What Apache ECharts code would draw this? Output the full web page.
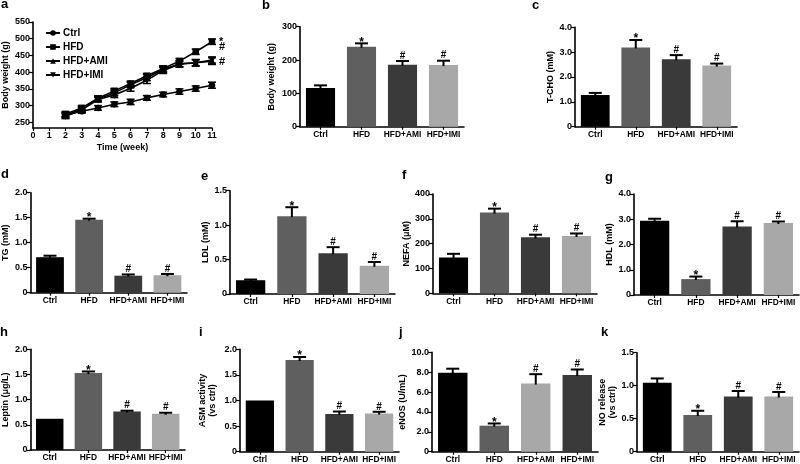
<!DOCTYPE html>
<html><head><meta charset="utf-8">
<script src="https://cdn.jsdelivr.net/npm/echarts@6/dist/echarts.min.js"></script>
<style>html,body{margin:0;padding:0;background:#fff}#c{width:800px;height:464px}</style>
</head><body><div id="c"></div>
<script>
// ---------- DATA ----------
const groups = ['Ctrl', 'HFD', 'HFD+AMI', 'HFD+IMI'];
// panel a: body weight over time
const weeks = [2, 3, 4, 5, 6, 7, 8, 9, 10, 11];
const weekTicks = [0, 1, 2, 3, 4, 5, 6, 7, 8, 9, 10, 11];
const ctrlWeight = [272, 283, 293, 304, 311, 323, 333, 342, 351, 361];
const ctrlWeightErr = [6, 6, 7, 7, 8, 7, 7, 8, 8, 9];
const hfdWeight = [275, 293, 322, 344, 366, 389, 411, 433, 461, 491];
const hfdWeightErr = [7, 7, 7, 7, 7, 7, 8, 8, 8, 8];
const amiWeight = [271, 290, 320, 338, 362, 384, 408, 425, 428, 433];
const amiWeightErr = [7, 7, 7, 8, 8, 9, 9, 9, 10, 10];
const imiWeight = [268, 287, 318, 332, 352, 376, 405, 424, 428, 436];
const imiWeightErr = [7, 7, 7, 8, 9, 10, 9, 9, 9, 9];
const endSig = ['', '*', '#', '#'];
// bar panels: values, SEM, significance marks
const bodyWeight = [116, 240, 186, 185];      const bodyWeightErr = [8, 10, 11, 13];
const tcho = [1.28, 3.19, 2.71, 2.46];         const tchoErr = [0.08, 0.3, 0.17, 0.08];
const tg = [0.71, 1.46, 0.34, 0.35];           const tgErr = [0.03, 0.02, 0.025, 0.025];
const ldl = [0.2, 1.13, 0.59, 0.41];           const ldlErr = [0.01, 0.13, 0.09, 0.055];
const nefa = [144, 325, 226, 231];             const nefaErr = [15, 16, 10, 10];
const hdl = [2.94, 0.63, 2.71, 2.85];          const hdlErr = [0.08, 0.1, 0.21, 0.06];
const leptin = [0.62, 1.53, 0.765, 0.72];      const leptinErr = [0, 0.03, 0.015, 0.02];
const asm = [1.0, 1.79, 0.735, 0.745];         const asmErr = [0, 0.06, 0.05, 0.035];
const enos = [7.95, 2.62, 6.85, 7.72];         const enosErr = [0.4, 0.22, 0.95, 0.55];
const noRelease = [1.045, 0.555, 0.835, 0.835];const noReleaseErr = [0.065, 0.065, 0.085, 0.07];
const sigUp = ['', '*', '#', '#'];

// ---------- STYLE / LAYOUT ----------
const FONT = 'Liberation Sans, Arial, sans-serif';
const colorsStd = ['#000000', '#5f5f5f', '#3a3a3a', '#a8a8a8'];
const colorsJ = ['#000000', '#5f5f5f', '#a8a8a8', '#3a3a3a'];

const panels = [
  {id:'b', v: bodyWeight, e: bodyWeightErr, s: sigUp, name:'Body weight (g)', max:300, iv:100, dec:0, box:[300, 26.7, 164, 100], gap:23, colors: colorsStd},
  {id:'c', v: tcho, e: tchoErr, s: sigUp, name:'T-CHO (mM)', max:4, iv:1, dec:1, box:[575, 27.3, 162, 99.4], gap:19, colors: colorsStd},
  {id:'d', v: tg, e: tgErr, s: sigUp, name:'TG (mM)', max:2, iv:0.5, dec:1, box:[25, 192.7, 162, 100], gap:13, colors: colorsStd},
  {id:'e', v: ldl, e: ldlErr, s: sigUp, name:'LDL (mM)', max:1.5, iv:0.5, dec:1, box:[230, 190.7, 165, 103.3], gap:12, colors: colorsStd},
  {id:'f', v: nefa, e: nefaErr, s: sigUp, name:'NEFA (\u03bcM)', max:400, iv:100, dec:0, box:[433, 194, 164, 99.3], gap:21, colors: colorsStd},
  {id:'g', v: hdl, e: hdlErr, s: sigUp, name:'HDL (mM)', max:4, iv:1, dec:1, box:[634, 194, 165, 101], gap:16, colors: colorsStd},
  {id:'h', v: leptin, e: leptinErr, s: sigUp, name:'Leptin (\u03bcg/L)', max:2, iv:0.5, dec:1, box:[25, 349.3, 160, 100.7], gap:15, colors: colorsStd},
  {id:'i', v: asm, e: asmErr, s: sigUp, name:'ASM activity\n(vs ctrl)', max:2, iv:0.5, dec:1, box:[240, 349.3, 159, 102.4], gap:22, colors: colorsStd},
  {id:'j', v: enos, e: enosErr, s: sigUp, name:'eNOS (U/mL)', max:10, iv:2, dec:1, box:[432, 352.3, 166, 99.4], gap:21, colors: colorsJ},
  {id:'k', v: noRelease, e: noReleaseErr, s: sigUp, name:'NO release\n(vs ctrl)', max:1.5, iv:0.5, dec:1, box:[637, 352.7, 162, 99], gap:18, colors: colorsStd}
];

const letters = [
  ['a', 1, -2], ['b', 262, -1], ['c', 532, -1], ['d', 1, 168], ['e', 201, 170], ['f', 402, 169],
  ['g', 605, 171], ['h', 0, 326], ['i', 199, 326], ['j', 399, 326], ['k', 601, 326]
];

const axisLineStyle = {color:'#000', width:1.6};
const tickLabel = {color:'#000', fontSize:9, fontWeight:'bold', fontFamily: FONT};
const catLabel = {color:'#000', fontSize:8.4, fontWeight:'bold', fontFamily: FONT};
const nameStyle = {color:'#000', fontSize:9, fontWeight:'bold', fontFamily: FONT, lineHeight: 10};

const grid = [], xAxis = [], yAxis = [], series = [];

// ---------- PANEL A ----------
grid.push({left:29, top:22, width:183, height:106, containLabel:false});
xAxis.push({type:'value', gridIndex:0, min:weekTicks[0], max:weekTicks[weekTicks.length-1], interval:1,
  name:'Time (week)', nameLocation:'middle', nameGap:15, nameTextStyle:nameStyle,
  axisLine:{show:true, lineStyle:axisLineStyle, onZero:false}, axisTick:{show:true, length:3, lineStyle:{color:'#000', width:1.2}},
  axisLabel:Object.assign({margin:3}, tickLabel), splitLine:{show:false}});
yAxis.push({type:'value', gridIndex:0, min:233, max:550, splitNumber:6,
  name:'Body weight (g)', nameLocation:'middle', nameGap:19, nameTextStyle:nameStyle,
  axisLine:{show:true, lineStyle:axisLineStyle, onZero:false}, axisTick:{show:true, length:4, lineStyle:{color:'#000', width:1.2}},
  axisLabel:Object.assign({margin:3, showMinLabel:false}, tickLabel), splitLine:{show:false}});

const lineDefs = [
  {name:'Ctrl', d:ctrlWeight, e:ctrlWeightErr, sym:'circle', size:6.5},
  {name:'HFD', d:hfdWeight, e:hfdWeightErr, sym:'rect', size:6.5},
  {name:'HFD+AMI', d:amiWeight, e:amiWeightErr, sym:'triangle', size:7.5},
  {name:'HFD+IMI', d:imiWeight, e:imiWeightErr, sym:'path://M0,0 L10,0 L5,9 Z', size:7.5}
];
const endSigDy = [0, 0, -14, 2];
lineDefs.forEach((ld, si) => {
  series.push({type:'line', name:ld.name, xAxisIndex:0, yAxisIndex:0,
    data: weeks.map((w, i) => [w, ld.d[i]]), symbol:ld.sym, symbolSize:ld.size, showSymbol:true,
    lineStyle:{color:'#000', width:1.6}, itemStyle:{color:'#000'}, z:3, animation:false});
  series.push({type:'custom', xAxisIndex:0, yAxisIndex:0, z:2, animation:false, silent:true,
    data: weeks.map((w, i) => [w, ld.d[i], ld.e[i]]),
    renderItem: (params, api) => {
      const x = api.value(0), v = api.value(1), e = api.value(2);
      const lo = api.coord([x, v - e]), hi = api.coord([x, v + e]);
      const st = {stroke:'#000', lineWidth:1.5};
      const ch = [
        {type:'line', shape:{x1:lo[0], y1:lo[1], x2:hi[0], y2:hi[1]}, style:st},
        {type:'line', shape:{x1:lo[0]-4, y1:lo[1], x2:lo[0]+4, y2:lo[1]}, style:st},
        {type:'line', shape:{x1:hi[0]-4, y1:hi[1], x2:hi[0]+4, y2:hi[1]}, style:st}
      ];
      if (params.dataIndex === weeks.length - 1 && endSig[si]) {
        const p = api.coord([x, v]);
        ch.push({type:'text', style:{text:endSig[si], x:p[0]+7, y:p[1]+endSigDy[si], fill:'#000',
          font:'bold 11px ' + FONT, textAlign:'left', textVerticalAlign:'middle'}});
      }
      return {type:'group', children:ch};
    }});
});

// ---------- BAR PANELS ----------
panels.forEach((p, k) => {
  const gi = k + 1;
  grid.push({left:p.box[0], top:p.box[1], width:p.box[2], height:p.box[3], containLabel:false});
  xAxis.push({type:'category', gridIndex:gi, data:groups,
    axisLine:{show:true, lineStyle:axisLineStyle}, axisTick:{show:true, alignWithLabel:true, length:3, lineStyle:{color:'#000', width:1.2}},
    axisLabel:Object.assign({margin:4, interval:0, hideOverlap:false}, catLabel)});
  yAxis.push({type:'value', gridIndex:gi, min:0, max:p.max, interval:p.iv,
    name:p.name, nameLocation:'middle', nameGap:p.gap, nameTextStyle:nameStyle,
    axisLine:{show:true, lineStyle:axisLineStyle}, axisTick:{show:true, length:4, lineStyle:{color:'#000', width:1.2}},
    axisLabel:Object.assign({margin:3, formatter: v => v === 0 ? '0' : (p.dec ? v.toFixed(p.dec) : String(v))}, tickLabel),
    splitLine:{show:false}});
  series.push({type:'bar', xAxisIndex:gi, yAxisIndex:gi, barCategoryGap:'29%', animation:false,
    data: p.v.map((v, i) => ({value:v, itemStyle:{color:p.colors[i]}})), z:2});
  series.push({type:'custom', xAxisIndex:gi, yAxisIndex:gi, z:3, animation:false, silent:true,
    data: p.v.map((v, i) => [i, v, p.e[i]]),
    renderItem: (params, api) => {
      const i = api.value(0), v = api.value(1), e = api.value(2);
      const base = api.coord([i, v]), hi = api.coord([i, v + e]);
      const ch = [];
      const st = {stroke:'#000', lineWidth:2};
      if (e > 0) {
        ch.push({type:'line', shape:{x1:base[0], y1:base[1] + 1, x2:hi[0], y2:hi[1]}, style:st});
        ch.push({type:'line', shape:{x1:hi[0]-6.5, y1:hi[1], x2:hi[0]+6.5, y2:hi[1]}, style:st});
      }
      const s = p.s[params.dataIndex];
      if (s) {
        const star = s === '*';
        ch.push({type:'text', style:{text:s, x:hi[0], y:hi[1] + (star ? 5 : 0), fill:'#000',
          font:'bold ' + (star ? 12 : 10) + 'px ' + FONT, textAlign:'center', textVerticalAlign:'bottom'}});
      }
      return {type:'group', children:ch};
    }});
});

const graphic = letters.map(l => ({type:'text', left:l[1], top:l[2],
  style:{text:l[0], font:'bold 13px ' + FONT, fill:'#000'}}));

const chart = echarts.init(document.getElementById('c'), null, {renderer:'canvas'});
chart.setOption({
  animation:false,
  backgroundColor:'#fff',
  textStyle:{fontFamily:FONT},
  grid, xAxis, yAxis, series, graphic,
  legend:{data:groups, left:40, top:23, orient:'vertical', itemWidth:14, itemHeight:7, itemGap:4,
    textStyle:{color:'#000', fontSize:10, fontWeight:'bold', fontFamily:FONT, padding:[0,0,0,-2]},
    selectedMode:false}
});
</script></body></html>
